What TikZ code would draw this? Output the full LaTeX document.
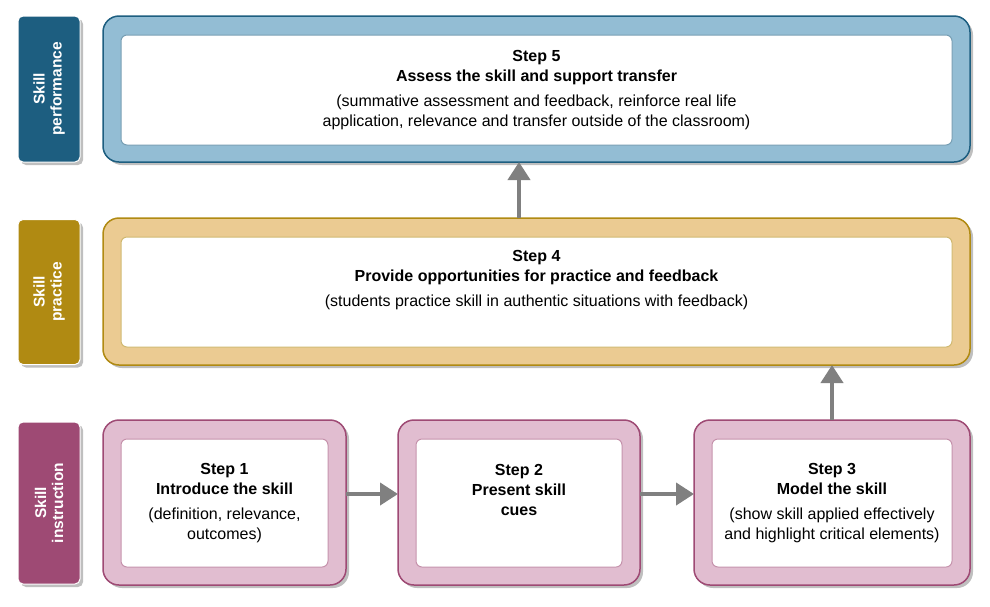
\documentclass[tikz,border=0pt]{standalone}
\usepackage{fontspec}
\setmainfont{Liberation Sans}
\usetikzlibrary{shadows,arrows.meta}
\definecolor{perfD}{HTML}{1D5E80}
\definecolor{perfL}{HTML}{93BDD4}
\definecolor{pracD}{HTML}{B08A12}
\definecolor{pracL}{HTML}{EBCB92}
\definecolor{instD}{HTML}{9E4A74}
\definecolor{instL}{HTML}{E1BDD0}
\tikzset{
  tag/.style={draw=white, line width=1pt, fill=#1, rounded corners=5pt, text=white,
    font=\fontsize{15.5}{17}\selectfont\bfseries, align=center, rotate=90,
    drop shadow={shadow xshift=3pt, shadow yshift=-3pt, fill=black!25, opacity=1}},
  outer/.style={draw=#1D, line width=1.5pt, fill=#1L, rounded corners=16pt,
    drop shadow={shadow xshift=3pt, shadow yshift=-3pt, fill=black!25, opacity=1}},
  inner/.style={draw=#1D!60, line width=1pt, fill=white, rounded corners=6pt,
    align=center, font=\fontsize{16}{20}\selectfont},
  flow/.style={line width=4pt, draw=black!50, -{Triangle[length=18pt 0 0,width=22pt 0 0]}}
}
\begin{document}
\begin{tikzpicture}[x=1pt,y=-1pt]
  \useasboundingbox (0,0) rectangle (990,606);

  % Stufen links
  \node[tag=perfD, minimum width=146pt, minimum height=62pt] (lperf) at (49,89) {Skill\\performance};
  \node[tag=pracD, minimum width=145pt, minimum height=62pt] (lprac) at (49,292) {Skill\\practice};
  \node[tag=instD, minimum width=162pt, minimum height=62pt] (linst) at (49,503) {Skill\\instruction};

  % Rahmen
  \filldraw[outer=perf] (103,16) rectangle (970,162);
  \filldraw[outer=prac] (103,218) rectangle (970,365);
  \filldraw[outer=inst] (103,420) rectangle (346,585);
  \filldraw[outer=inst] (398,420) rectangle (640,585);
  \filldraw[outer=inst] (694,420) rectangle (970,585);

  % Inhalt
  \node[inner=perf, minimum width=831pt, minimum height=110pt] (step5) at (536.5,90)
    {\textbf{Step 5}\\\textbf{Assess the skill and support transfer}\\[5pt]
     (summative assessment and feedback, reinforce real life\\
     application, relevance and transfer outside of the classroom)};
  \node[inner=prac, minimum width=831pt, minimum height=110pt] (step4) at (536.5,292)
    {\textbf{Step 4}\\\textbf{Provide opportunities for practice and feedback}\\[5pt]
     (students practice skill in authentic situations with feedback)\\[8pt]};
  \node[inner=inst, minimum width=207pt, minimum height=128pt] (step1) at (224.5,503)
    {\textbf{Step 1}\\\textbf{Introduce the skill}\\[5pt](definition, relevance,\\outcomes)};
  \node[inner=inst, minimum width=206pt, minimum height=128pt] (step2) at (519,503)
    {\textbf{Step 2}\\\textbf{Present skill}\\\textbf{cues}\\[6pt]};
  \node[inner=inst, minimum width=240pt, minimum height=128pt] (step3) at (832,503)
    {\textbf{Step 3}\\\textbf{Model the skill}\\[5pt](show skill applied effectively\\and highlight critical elements)};

  \coordinate (o1) at (346,494);
  \coordinate (i2) at (398,494);
  \coordinate (o2) at (640,494);
  \coordinate (i3) at (694,494);
  \coordinate (t3) at (832,420);
  \coordinate (b4) at (832,365);
  \coordinate (t4) at (519,218);
  \coordinate (b5) at (519,162);

  \draw[flow] (o1) -- (i2);
  \draw[flow] (o2) -- (i3);
  \draw[flow] (t3) -- (b4);
  \draw[flow] (t4) -- (b5);
\end{tikzpicture}
\end{document}
